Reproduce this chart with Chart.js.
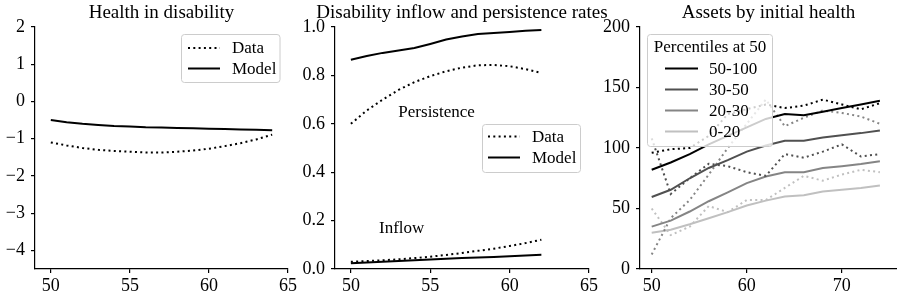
<!DOCTYPE html>
<html>
<head>
<meta charset="utf-8">
<script src="https://cdn.jsdelivr.net/npm/chart.js@4.4.1/dist/chart.umd.min.js"></script>
<style>
body { margin: 0; background: #fff; width: 897px; height: 299px; overflow: hidden; position: relative; }
.box { position: absolute; top: 0; height: 299px; }
</style>
</head>
<body>
<div class="box" style="left:0;width:300px"><canvas id="c1"></canvas></div>
<div class="box" style="left:290px;width:350px"><canvas id="c2"></canvas></div>
<div class="box" style="left:590px;width:307px"><canvas id="c3"></canvas></div>
<script>
const FONT = '"Liberation Serif", "Times New Roman", serif';

// panel 1: health in disability
const ages1 = [50, 51, 52, 53, 54, 55, 56, 57, 58, 59, 60, 61, 62, 63, 64];
const healthData = [-1.10, -1.18, -1.25, -1.30, -1.33, -1.35, -1.37, -1.37, -1.35, -1.32, -1.27, -1.20, -1.12, -1.02, -0.89];
const healthModel = [-0.50, -0.56, -0.60, -0.63, -0.66, -0.67, -0.69, -0.70, -0.71, -0.72, -0.73, -0.74, -0.75, -0.76, -0.77];
const xTicks1 = [50, 55, 60, 65];
const yTicks1 = [-4, -3, -2, -1, 0, 1, 2];

// panel 2: inflow and persistence
const ages2 = [50, 51, 52, 53, 54, 55, 56, 57, 58, 59, 60, 61, 62];
const persistData = [0.600, 0.655, 0.700, 0.740, 0.772, 0.797, 0.817, 0.832, 0.842, 0.843, 0.838, 0.826, 0.810];
const persistModel = [0.865, 0.880, 0.893, 0.903, 0.913, 0.930, 0.948, 0.961, 0.971, 0.975, 0.979, 0.984, 0.988];
const inflowData = [0.030, 0.033, 0.036, 0.040, 0.045, 0.051, 0.058, 0.066, 0.075, 0.084, 0.095, 0.107, 0.121];
const inflowModel = [0.024, 0.027, 0.030, 0.033, 0.036, 0.039, 0.042, 0.045, 0.048, 0.050, 0.053, 0.056, 0.059];
const xTicks2 = [50, 55, 60, 65];
const yTicks2 = [0, 0.2, 0.4, 0.6, 0.8, 1.0];

// panel 3: assets by initial health percentile
const ages3 = [50, 52, 54, 56, 58, 60, 62, 64, 66, 68, 70, 72, 74];
const groups = ['50-100', '30-50', '20-30', '0-20'];
const groupColors = ['#000000', '#505050', '#858585', '#c0c0c0'];
const model100 = [82, 88, 95, 103, 110, 117, 124, 128, 127, 130, 133, 136, 139];
const model50 = [59.5, 65.5, 75, 83.5, 90, 97, 102, 106, 106, 108.7, 110.5, 112.3, 114.5];
const model30 = [35, 40, 47.5, 56, 63.3, 71, 76.5, 80, 80, 83.5, 85, 86.7, 89];
const model20 = [30, 32.5, 37, 42, 47, 52.5, 56.5, 60, 61, 64, 65.5, 67, 69];
const data100 = [96, 99, 100, 110, 128, 132, 136, 133, 135, 140, 136, 132, 137];
const data50 = [108, 62, 75, 87, 85, 80, 77, 95, 92, 97, 103, 93, 95];
const data30 = [12, 42, 57, 78, 100, 120, 140, 118, 125, 131, 129, 126, 120];
const data20 = [50, 28, 35, 52, 47, 57, 57, 67, 77, 73, 78, 82, 80];
const xTicks3 = [50, 60, 70];
const yTicks3 = [0, 50, 100, 150, 200];

const DOT = [2, 3.3];

function line(xs, ys, color, dotted) {
    return {
        data: xs.map((x, i) => ({ x: x, y: ys[i] })),
        borderColor: color,
        borderWidth: 2,
        borderDash: dotted ? DOT : [],
        borderCapStyle: 'butt',
        pointRadius: 0,
        tension: 0,
        fill: false
    };
}

function texts(title, notes) {
    return {
        id: 'texts',
        afterDatasetsDraw(chart) {
            const ctx = chart.ctx;
            const a = chart.chartArea;
            ctx.save();
            ctx.fillStyle = '#000';
            ctx.textBaseline = 'alphabetic';
            ctx.textAlign = 'center';
            ctx.font = '19px ' + FONT;
            ctx.fillText(title, (a.left + a.right) / 2, 18);
            ctx.font = '17px ' + FONT;
            ctx.textBaseline = 'middle';
            (notes || []).forEach(n => {
                ctx.fillText(n.text, chart.scales.x.getPixelForValue(n.x), chart.scales.y.getPixelForValue(n.y));
            });
            ctx.restore();
        }
    };
}

function legend(o) {
    return {
        id: 'legendBox',
        afterDatasetsDraw(chart) {
            const ctx = chart.ctx;
            ctx.save();
            ctx.beginPath();
            ctx.roundRect(o.box[0], o.box[1], o.box[2], o.box[3], 3);
            ctx.fillStyle = 'rgba(255,255,255,0.8)';
            ctx.fill();
            ctx.strokeStyle = '#cccccc';
            ctx.lineWidth = 1;
            ctx.stroke();
            ctx.font = '17px ' + FONT;
            ctx.textBaseline = 'middle';
            ctx.fillStyle = '#000';
            if (o.title) {
                ctx.textAlign = 'center';
                ctx.fillText(o.title, o.titleX, o.titleY);
            }
            ctx.textAlign = 'left';
            o.items.forEach((it, i) => {
                const y = o.rows[i];
                ctx.beginPath();
                ctx.setLineDash(it.dotted ? DOT : []);
                ctx.strokeStyle = it.color;
                ctx.lineWidth = 2;
                ctx.moveTo(o.lineX[0], y);
                ctx.lineTo(o.lineX[1], y);
                ctx.stroke();
                ctx.setLineDash([]);
                ctx.fillStyle = '#000';
                ctx.fillText(it.label, o.textX, y + 1);
            });
            ctx.restore();
        }
    };
}

function axis(min, max, ticks, fmt, isX, size) {
    return {
        type: 'linear',
        min: min,
        max: max,
        afterBuildTicks: s => { s.ticks = ticks.map(v => ({ value: v })); },
        afterFit: s => { if (isX) s.height = size; else s.width = size; },
        grid: { drawOnChartArea: false, color: '#000', tickLength: 4, lineWidth: 1.2 },
        border: { color: '#000', width: 1.2 },
        ticks: {
            color: '#000',
            font: { family: FONT, size: 18 },
            padding: isX ? 2 : 6,
            maxRotation: 0,
            autoSkip: false,
            callback: fmt
        }
    };
}

function panel(id, datasets, sx, sy, padding, plugins) {
    return new Chart(document.getElementById(id), {
        type: 'line',
        data: { datasets: datasets },
        options: {
            responsive: true,
            maintainAspectRatio: false,
            animation: false,
            parsing: true,
            layout: { padding: padding },
            plugins: { legend: { display: false }, tooltip: { enabled: false } },
            scales: { x: sx, y: sy }
        },
        plugins: plugins
    });
}

const minus = v => v < 0 ? '\u2212' + Math.abs(v) : String(v);

panel('c1',
    [line(ages1, healthData, '#000', true), line(ages1, healthModel, '#000', false)],
    axis(49, 65, xTicks1, v => String(v), true, 30),
    axis(-4.5, 2, yTicks1, minus, false, 35),
    { left: 0, right: 12, top: 27, bottom: 0 },
    [texts('Health in disability'),
     legend({ box: [181.5, 34.5, 98.5, 48], rows: [48, 68.5], lineX: [188, 220], textX: 232,
              items: [{ label: 'Data', color: '#000', dotted: true }, { label: 'Model', color: '#000', dotted: false }] })]
);

panel('c2',
    [line(ages2, persistData, '#000', true), line(ages2, persistModel, '#000', false),
     line(ages2, inflowData, '#000', true), line(ages2, inflowModel, '#000', false)],
    axis(49, 65, xTicks2, v => String(v), true, 30),
    axis(0, 1, yTicks2, v => v.toFixed(1), false, 45),
    { left: 0, right: 51, top: 27, bottom: 0 },
    [texts('Disability inflow and persistence rates',
           [{ text: 'Persistence', x: 55.4, y: 0.647 }, { text: 'Inflow', x: 53.2, y: 0.167 }]),
     legend({ box: [192.5, 124.5, 98, 48], rows: [136.5, 157.5], lineX: [198, 230], textX: 242,
              items: [{ label: 'Data', color: '#000', dotted: true }, { label: 'Model', color: '#000', dotted: false }] })]
);

const models3 = [model100, model50, model30, model20];
const datas3 = [data100, data50, data30, data20];
const sets3 = [];
groups.forEach((g, i) => {
    sets3.push(line(ages3, models3[i], groupColors[i], false));
    sets3.push(line(ages3, datas3[i], groupColors[i], true));
});

panel('c3',
    sets3,
    axis(48.77, 75.8, xTicks3, v => String(v), true, 30),
    axis(0, 200, yTicks3, v => String(v), false, 50),
    { left: 0, right: 0, top: 27, bottom: 0 },
    [texts('Assets by initial health'),
     legend({ box: [57.5, 34.5, 125, 112], title: 'Percentiles at 50', titleX: 120, titleY: 48,
              rows: [68.5, 89.5, 110.5, 131.5], lineX: [75, 108], textX: 119,
              items: groups.map((g, i) => ({ label: g, color: groupColors[i], dotted: false })) })]
);
</script>
</body>
</html>
